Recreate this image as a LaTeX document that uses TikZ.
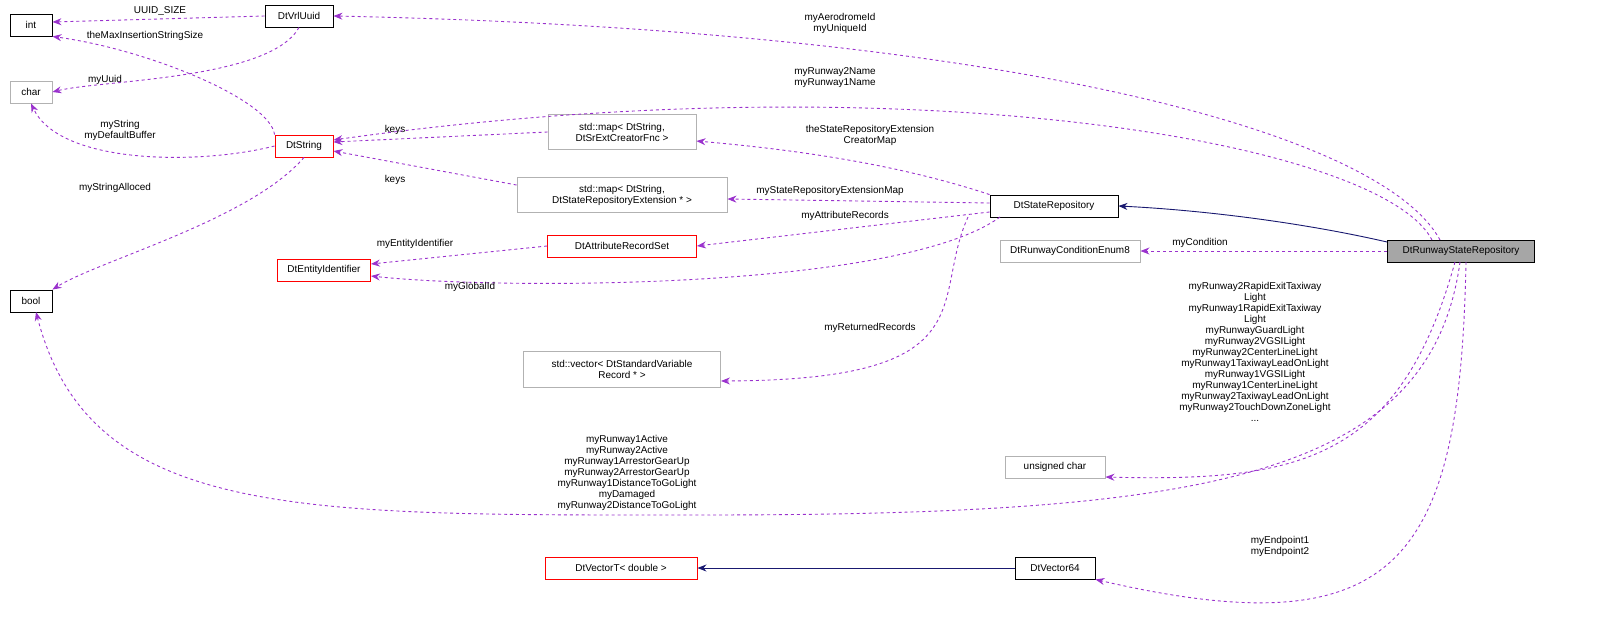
\documentclass[tikz,border=0pt]{standalone}
\usepackage{fontspec}
\setmainfont{Liberation Sans}
\usetikzlibrary{arrows.meta}
\definecolor{edgep}{HTML}{9A32CD}
\definecolor{navy}{HTML}{191970}
\begin{document}
\begin{tikzpicture}[x=1bp,y=-1bp,line width=0.9bp,
  box/.style={draw=black,fill=white,inner sep=2pt,font=\fontsize{10}{11}\selectfont,align=center,minimum height=22bp},
  gbox/.style={box,draw=gray!60},
  rbox/.style={box,draw=red},
  dep/.style={draw=edgep,dashed,-{Stealth[length=9bp,width=7bp]}},
  inh/.style={draw=navy,-{Stealth[length=9bp,width=7bp]}},
  lbl/.style={font=\fontsize{10}{11}\selectfont,align=center,inner sep=0pt}]
\useasboundingbox (0,0) rectangle (1611,623);
\node[box,minimum width=42bp] (int) at (31,25) {int};
\node[box,minimum width=68bp] (uuid) at (299,16) {DtVrlUuid};
\node[gbox,minimum width=42bp] (char) at (31,92) {char};
\node[rbox,minimum width=58bp] (str) at (304,146) {DtString};
\node[gbox,minimum width=148bp,minimum height=35bp] (map1) at (622,132) {std::map\textless{} DtString,\\DtSrExtCreatorFnc \textgreater};
\node[gbox,minimum width=210bp,minimum height=35bp] (map2) at (622,195) {std::map\textless{} DtString,\\DtStateRepositoryExtension * \textgreater};
\node[box,minimum width=128bp] (sr) at (1054,206) {DtStateRepository};
\node[rbox,minimum width=149bp] (ars) at (622,246) {DtAttributeRecordSet};
\node[rbox,minimum width=93bp] (eid) at (324,270) {DtEntityIdentifier};
\node[gbox,minimum width=140bp] (cond) at (1070,251) {DtRunwayConditionEnum8};
\node[box,fill=gray!70,minimum width=147bp] (rsr) at (1461,251) {DtRunwayStateRepository};
\node[box,minimum width=42bp] (bool) at (31,301) {bool};
\node[gbox,minimum width=197bp,minimum height=36bp] (vec) at (622,369) {std::vector\textless{} DtStandardVariable\\Record * \textgreater};
\node[gbox,minimum width=100bp] (uch) at (1055,467) {unsigned char};
\node[rbox,minimum width=152bp] (vt) at (621,568) {DtVectorT\textless{} double \textgreater};
\node[box,minimum width=80bp] (v64) at (1055,568) {DtVector64};

\draw[dep] (uuid.west) -- (int.east |- 0,22);
\node[lbl] at (160,11) {UUID\_SIZE};
\draw[dep] (str.north west) .. controls (270,100) and (150,50) .. (int.south east);
\node[lbl] at (145,36) {theMaxInsertionStringSize};
\draw[dep] (uuid.south) .. controls (270,80) and (100,80) .. (char.east);
\node[lbl] at (105,80) {myUuid};
\draw[dep] (str.west) .. controls (200,165) and (60,165) .. (char.south);
\node[lbl] at (120,130) {myString\\myDefaultBuffer};
\draw[dep] (str.south) .. controls (250,220) and (100,260) .. (bool.north east);
\node[lbl] at (115,188) {myStringAlloced};
\draw[dep] (map1.west) -- (str.east |- 0,142);
\node[lbl] at (395,130) {keys};
\draw[dep] (map2.west |- 0,185) -- (str.east |- 0,151);
\node[lbl] at (395,180) {keys};
\draw[dep] (sr.north west) .. controls (900,165) and (800,150) .. (map1.east |- 0,141);
\node[lbl] at (870,135) {theStateRepositoryExtension\\CreatorMap};
\draw[dep] (sr.west |- 0,203) -- (map2.east |- 0,199);
\node[lbl] at (830,191) {myStateRepositoryExtensionMap};
\draw[dep] (sr.west |- 0,212) -- (ars.east);
\node[lbl] at (845,216) {myAttributeRecords};
\draw[dep] (1000,217) .. controls (900,290) and (500,290) .. (eid.east |- 0,276);
\node[lbl] at (470,287) {myGlobalId};
\draw[dep] (968,217) .. controls (930,300) and (990,380) .. (vec.east |- 0,381);
\node[lbl] at (870,328) {myReturnedRecords};
\draw[dep] (ars.west) -- (eid.east |- 0,264);
\node[lbl] at (415,244) {myEntityIdentifier};
\draw[inh] (rsr.west |- 0,242) .. controls (1300,222) and (1200,210) .. (sr.east);
\draw[dep] (1440,240) .. controls (1380,130) and (1000,30) .. (uuid.east);
\node[lbl] at (840,23) {myAerodromeId\\myUniqueId};
\draw[dep] (1432,240) .. controls (1380,140) and (900,60) .. (str.east |- 0,140);
\node[lbl] at (835,78) {myRunway2Name\\myRunway1Name};
\draw[dep] (rsr.west) -- (cond.east);
\node[lbl] at (1200,243) {myCondition};
\draw[dep] (1455,262) .. controls (1400,460) and (1300,482) .. (uch.east |- 0,477);
\node[lbl] at (1255,352) {myRunway2RapidExitTaxiway\\Light\\myRunway1RapidExitTaxiway\\Light\\myRunwayGuardLight\\myRunway2VGSILight\\myRunway2CenterLineLight\\myRunway1TaxiwayLeadOnLight\\myRunway1VGSILight\\myRunway1CenterLineLight\\myRunway2TaxiwayLeadOnLight\\myRunway2TouchDownZoneLight\\...};
\draw[dep] (1460,262) .. controls (1430,480) and (1200,515) .. (700,515) .. controls (300,515) and (90,520) .. (36,312);
\node[lbl] at (627,473) {myRunway1Active\\myRunway2Active\\myRunway1ArrestorGearUp\\myRunway2ArrestorGearUp\\myRunway1DistanceToGoLight\\myDamaged\\myRunway2DistanceToGoLight};
\draw[dep] (1466,262) .. controls (1460,560) and (1400,650) .. (v64.south east);
\node[lbl] at (1280,546) {myEndpoint1\\myEndpoint2};
\draw[inh] (v64.west) -- (vt.east);
\end{tikzpicture}
\end{document}
